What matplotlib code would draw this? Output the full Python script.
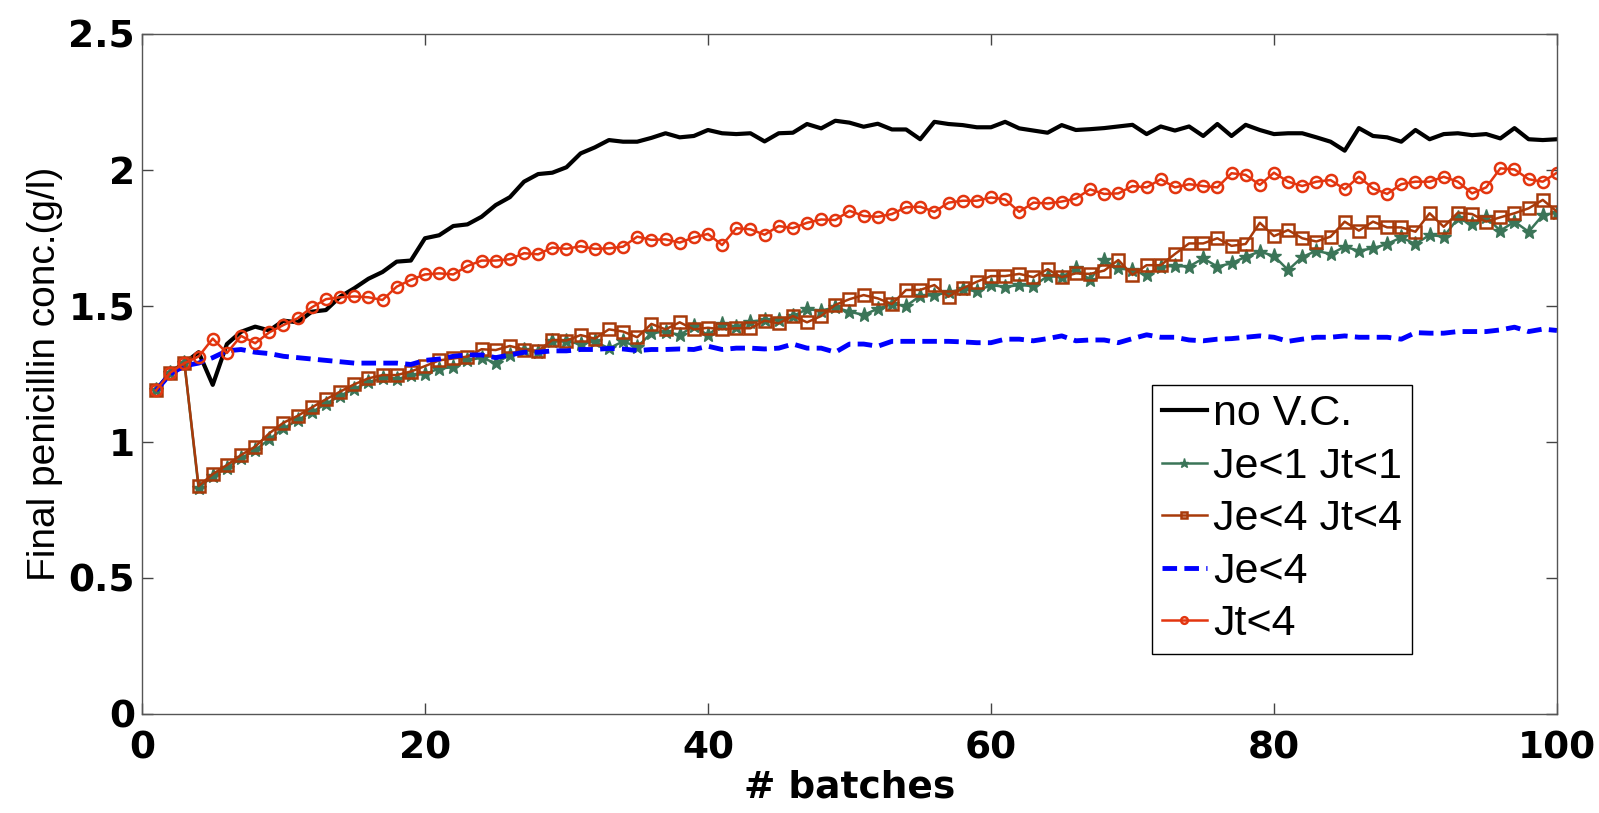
import numpy as np
import matplotlib
matplotlib.use("Agg")
import matplotlib.pyplot as plt

plt.rcParams['font.family'] = ['Liberation Sans', 'DejaVu Sans']

batches = np.arange(1, 101)

no_vc = [1.19, 1.255, 1.29, 1.33, 1.21, 1.36, 1.405, 1.424, 1.41, 1.446,
         1.44, 1.479, 1.485, 1.534, 1.565, 1.60, 1.625, 1.663, 1.667, 1.749,
         1.76, 1.794, 1.80, 1.828, 1.871, 1.90, 1.957, 1.985, 1.99, 2.01,
         2.061, 2.083, 2.11, 2.104, 2.104, 2.118, 2.135, 2.12, 2.125, 2.147,
         2.135, 2.132, 2.135, 2.105, 2.135, 2.137, 2.169, 2.153, 2.181, 2.174,
         2.159, 2.17, 2.149, 2.149, 2.113, 2.177, 2.169, 2.165, 2.157, 2.157,
         2.177, 2.153, 2.145, 2.137, 2.165, 2.147, 2.15, 2.154, 2.16, 2.166,
         2.132, 2.16, 2.145, 2.16, 2.125, 2.169, 2.125, 2.166, 2.147, 2.132,
         2.135, 2.135, 2.12, 2.104, 2.071, 2.154, 2.125, 2.12, 2.104, 2.147,
         2.113, 2.132, 2.135, 2.128, 2.132, 2.116, 2.154, 2.113, 2.11, 2.113]

je1_jt1 = [1.19, 1.255, 1.29, 0.83, 0.875, 0.905, 0.94, 0.97, 1.01, 1.05,
           1.08, 1.11, 1.14, 1.17, 1.195, 1.22, 1.234, 1.23, 1.245, 1.25,
           1.27, 1.275, 1.30, 1.31, 1.29, 1.32, 1.34, 1.33, 1.37, 1.37,
           1.36, 1.37, 1.344, 1.37, 1.35, 1.40, 1.406, 1.393, 1.426, 1.393,
           1.434, 1.424, 1.442, 1.449, 1.449, 1.463, 1.488, 1.483, 1.495, 1.479,
           1.467, 1.49, 1.507, 1.50, 1.537, 1.54, 1.55, 1.562, 1.554, 1.577,
           1.57, 1.577, 1.573, 1.61, 1.606, 1.638, 1.596, 1.669, 1.638, 1.632,
           1.614, 1.645, 1.647, 1.645, 1.675, 1.645, 1.657, 1.681, 1.70, 1.684,
           1.632, 1.68, 1.703, 1.691, 1.718, 1.703, 1.712, 1.728, 1.752, 1.728,
           1.761, 1.755, 1.822, 1.80, 1.826, 1.777, 1.81, 1.773, 1.834, 1.843]

je4_jt4 = [1.19, 1.255, 1.29, 0.838, 0.882, 0.915, 0.952, 0.983, 1.032, 1.071,
           1.096, 1.127, 1.157, 1.185, 1.212, 1.234, 1.246, 1.246, 1.259, 1.279,
           1.30, 1.307, 1.314, 1.341, 1.338, 1.353, 1.34, 1.335, 1.375, 1.373,
           1.393, 1.38, 1.414, 1.406, 1.385, 1.434, 1.414, 1.44, 1.414, 1.42,
           1.414, 1.418, 1.418, 1.446, 1.436, 1.463, 1.44, 1.463, 1.504, 1.525,
           1.54, 1.528, 1.507, 1.559, 1.559, 1.577, 1.534, 1.565, 1.589, 1.61,
           1.61, 1.618, 1.606, 1.635, 1.606, 1.62, 1.618, 1.63, 1.669, 1.614,
           1.65, 1.65, 1.691, 1.73, 1.73, 1.749, 1.721, 1.728, 1.806, 1.757,
           1.779, 1.749, 1.737, 1.755, 1.81, 1.777, 1.81, 1.789, 1.789, 1.773,
           1.841, 1.791, 1.843, 1.838, 1.81, 1.826, 1.841, 1.859, 1.89, 1.847]

je4 = [1.19, 1.25, 1.28, 1.29, 1.31, 1.335, 1.34, 1.33, 1.325, 1.315,
       1.31, 1.305, 1.30, 1.295, 1.29, 1.29, 1.29, 1.29, 1.285, 1.30,
       1.305, 1.315, 1.32, 1.32, 1.31, 1.32, 1.33, 1.33, 1.335, 1.335,
       1.34, 1.34, 1.344, 1.342, 1.336, 1.34, 1.34, 1.342, 1.34, 1.352,
       1.34, 1.345, 1.345, 1.342, 1.345, 1.36, 1.345, 1.345, 1.33, 1.36,
       1.36, 1.352, 1.37, 1.37, 1.37, 1.37, 1.37, 1.368, 1.365, 1.365,
       1.378, 1.378, 1.372, 1.38, 1.39, 1.372, 1.375, 1.375, 1.365, 1.38,
       1.394, 1.385, 1.385, 1.375, 1.372, 1.378, 1.38, 1.385, 1.39, 1.385,
       1.37, 1.378, 1.385, 1.385, 1.39, 1.385, 1.385, 1.385, 1.378, 1.402,
       1.40, 1.40, 1.406, 1.406, 1.406, 1.412, 1.422, 1.406, 1.415, 1.41]

jt4 = [1.19, 1.255, 1.29, 1.314, 1.38, 1.327, 1.39, 1.363, 1.403, 1.43,
       1.455, 1.495, 1.525, 1.532, 1.535, 1.532, 1.522, 1.571, 1.596, 1.616,
       1.62, 1.616, 1.647, 1.667, 1.667, 1.672, 1.694, 1.69, 1.715, 1.71,
       1.72, 1.71, 1.712, 1.718, 1.755, 1.743, 1.745, 1.733, 1.752, 1.765,
       1.724, 1.786, 1.782, 1.762, 1.794, 1.786, 1.806, 1.818, 1.816, 1.85,
       1.831, 1.828, 1.838, 1.863, 1.865, 1.846, 1.88, 1.887, 1.887, 1.899,
       1.892, 1.846, 1.88, 1.877, 1.884, 1.895, 1.929, 1.912, 1.914, 1.941,
       1.936, 1.966, 1.936, 1.948, 1.941, 1.936, 1.988, 1.982, 1.945, 1.99,
       1.957, 1.941, 1.957, 1.963, 1.929, 1.975, 1.932, 1.912, 1.948, 1.957,
       1.957, 1.975, 1.957, 1.914, 1.936, 2.006, 2.002, 1.966, 1.957, 1.99]

fig = plt.figure(figsize=(15.99, 8.13), dpi=100)
ax = fig.add_axes([0.0888, 0.1218, 0.8849, 0.8364])

ax.plot(batches, no_vc, color='black', lw=3, label='no V.C.')
ax.plot(batches, je1_jt1, color='#3b7558', lw=1.8, marker='*', ms=11,
        label='Je<1 Jt<1')
ax.plot(batches, je4_jt4, color='#a83a0a', lw=1.8, marker='s', ms=8,
        mfc='none', mew=1.8, label='Je<4 Jt<4')
ax.plot(batches, je4, color='#0000ff', lw=3.5, ls=(0, (3, 1.5)), label='Je<4')
ax.plot(batches, jt4, color='#e3350f', lw=1.8, marker='o', ms=8,
        mfc='none', mew=1.8, label='Jt<4')

ax.set_xlim(0, 100)
ax.set_ylim(0, 2.5)
ax.set_xticks([0, 20, 40, 60, 80, 100])
ax.set_yticks([0, 0.5, 1, 1.5, 2, 2.5])
ax.set_yticklabels(['0', '0.5', '1', '1.5', '2', '2.5'])
ax.tick_params(direction='in', length=8, width=1, top=True, right=True,
               colors='#444444', labelcolor='black')
ax.tick_params(axis='x', pad=12)
ax.tick_params(axis='y', pad=5)
for lab in ax.get_xticklabels() + ax.get_yticklabels():
    lab.set_fontfamily('DejaVu Sans')
    lab.set_fontweight('bold')
    lab.set_fontsize(27)
for sp in ax.spines.values():
    sp.set_color('#555555')
    sp.set_linewidth(1)

ax.set_xlabel('# batches', fontsize=27, fontweight='bold',
              family='DejaVu Sans', labelpad=2)
ax.set_ylabel('Final penicillin conc.(g/l)', fontsize=28, labelpad=4)

leg = ax.legend(loc='upper left', bbox_to_anchor=(0.714, 0.484),
                fontsize=31, frameon=True, fancybox=False, framealpha=1,
                edgecolor='black', handlelength=1.05, handletextpad=0.15,
                labelspacing=0.29, borderpad=0.22, markerscale=0.6,
                borderaxespad=0)
leg.get_frame().set_linewidth(1)

fig.savefig('out.png', dpi=100)
